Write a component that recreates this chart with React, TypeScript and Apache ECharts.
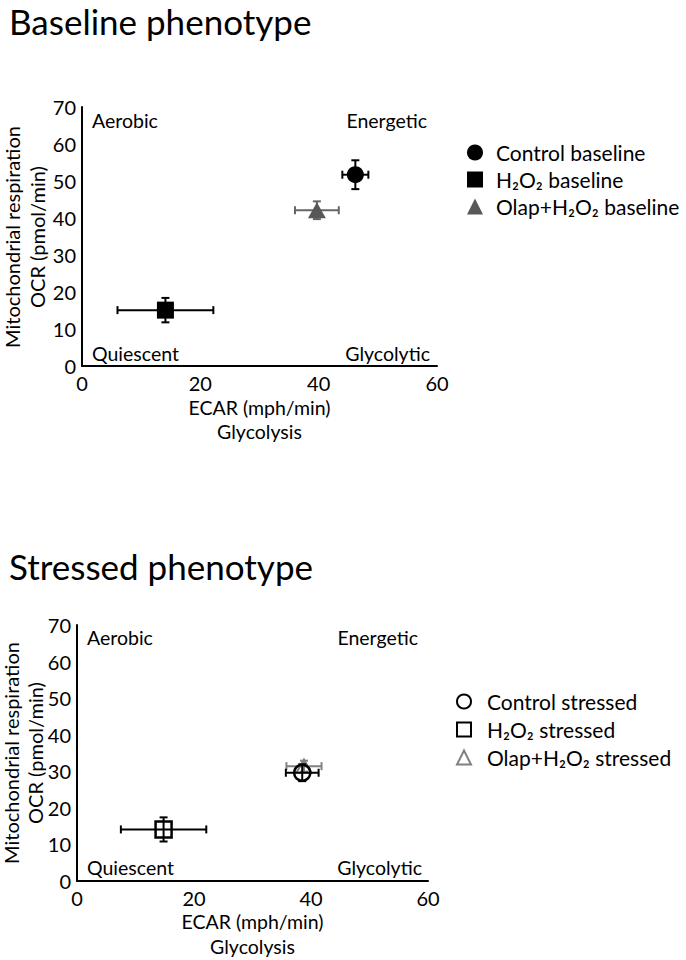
import React, { useEffect, useRef } from "react";
import * as echarts from "echarts";

const FONT = "Lato";

// Baseline phenotype
const baselineNames = ["Control baseline", "H₂O₂ baseline", "Olap+H₂O₂ baseline"];
const baselineX = [46.2, 14.1, 39.7];
const baselineY = [51.7, 15.1, 42.1];
const baselineXErr = [2.2, 8.1, 3.7];
const baselineYErr = [3.9, 3.3, 2.4];

// Stressed phenotype
const stressedNames = ["Control stressed", "H₂O₂ stressed", "Olap+H₂O₂ stressed"];
const stressedX = [38.5, 14.8, 38.8];
const stressedY = [29.6, 14.1, 31.4];
const stressedXErr = [2.8, 7.3, 3.0];
const stressedYErr = [2.3, 3.3, 1.5];

const xTicks = { min: 0, max: 60, interval: 20 };
const yTicks = { min: 0, max: 70, interval: 10 };
const quadrantLabels = ["Aerobic", "Energetic", "Quiescent", "Glycolytic"];
const yNameLines = ["Mitochondrial respiration", "OCR (pmol/min)"];

function errSeries(g: number, x: number, y: number, xe: number, ye: number, color: string, z: number) {
  return {
    type: "custom",
    xAxisIndex: g,
    yAxisIndex: g,
    z,
    silent: true,
    encode: { x: 0, y: 1 },
    data: [[x, y, xe, ye]],
    renderItem: (params: any, api: any) => {
      const vx = api.value(0), vy = api.value(1), ex = api.value(2), ey = api.value(3);
      const c = api.coord([vx, vy]);
      const l = api.coord([vx - ex, vy]);
      const r = api.coord([vx + ex, vy]);
      const t = api.coord([vx, vy + ey]);
      const b = api.coord([vx, vy - ey]);
      const cap = 4;
      const style = { stroke: color, lineWidth: 2 };
      const ln = (x1: number, y1: number, x2: number, y2: number) => ({ type: "line", shape: { x1, y1, x2, y2 }, style });
      return {
        type: "group",
        children: [
          ln(l[0], c[1], r[0], c[1]),
          ln(l[0], c[1] - cap, l[0], c[1] + cap),
          ln(r[0], c[1] - cap, r[0], c[1] + cap),
          ln(c[0], t[1], c[0], b[1]),
          ln(c[0] - cap, t[1], c[0] + cap, t[1]),
          ln(c[0] - cap, b[1], c[0] + cap, b[1]),
        ],
      };
    },
  };
}

function axisPair(g: number, xGap: number, xLH: number) {
  const lab = { color: "#000", fontSize: 20, fontFamily: FONT };
  return {
    x: {
      gridIndex: g,
      type: "value",
      ...xTicks,
      axisLine: { show: true, onZero: false, lineStyle: { color: "#000", width: 2 } },
      axisTick: { show: false },
      splitLine: { show: false },
      axisLabel: { ...lab, margin: 7 },
      name: "ECAR (mph/min)\nGlycolysis",
      nameLocation: "middle",
      nameGap: xGap,
      nameTextStyle: { ...lab, fontSize: 19.5, lineHeight: xLH },
    },
    y: {
      gridIndex: g,
      type: "value",
      ...yTicks,
      axisLine: { show: true, onZero: false, lineStyle: { color: "#000", width: 2 } },
      axisTick: { show: false },
      splitLine: { show: false },
      axisLabel: { ...lab, margin: 6 },
    },
  };
}

function quadText(text: string, x: number, y: number, align: string) {
  return {
    type: "text",
    x,
    y,
    style: { text, fill: "#000", fontSize: 19.5, fontFamily: FONT, align, verticalAlign: "middle" },
  };
}

function yNameText(text: string, x: number, y: number) {
  return {
    type: "text",
    x,
    y,
    rotation: Math.PI / 2,
    style: { text, fill: "#000", fontSize: 20, fontFamily: FONT, align: "center", verticalAlign: "middle" },
  };
}

export default function App() {
  const ref = useRef<HTMLDivElement>(null);
  useEffect(() => {
    if (!ref.current) return;
    const chart = echarts.init(ref.current, null, { renderer: "svg" });
    const a0 = axisPair(0, 29, 24);
    const a1 = axisPair(1, 28, 25);
    const black = "#000";
    const gray = "#585858";
    const grayLine = "#666";
    const hollowGray = "#808080";
    const legendText = { color: "#000", fontSize: 21, fontFamily: FONT };
    chart.setOption({
      animation: false,
      backgroundColor: "#fff",
      title: [
        { text: "Baseline phenotype", left: 9, top: 3, padding: 0, textStyle: { fontSize: 35, fontWeight: "normal", color: "#000", fontFamily: FONT } },
        { text: "Stressed phenotype", left: 9, top: 548, padding: 0, textStyle: { fontSize: 35, fontWeight: "normal", color: "#000", fontFamily: FONT } },
      ],
      grid: [
        { left: 82, top: 107, width: 355, height: 259, outerBoundsMode: "none" },
        { left: 77, top: 625, width: 351, height: 256, outerBoundsMode: "none" },
      ],
      xAxis: [a0.x, a1.x],
      yAxis: [a0.y, a1.y],
      legend: [
        {
          orient: "vertical",
          left: 467,
          top: 142,
          padding: 0,
          itemWidth: 16,
          itemHeight: 16,
          itemGap: 6,
          data: baselineNames,
          textStyle: { ...legendText, padding: [0, 0, 0, 8] },
        },
        {
          orient: "vertical",
          left: 456,
          top: 691,
          padding: 0,
          itemWidth: 14,
          itemHeight: 14,
          itemGap: 7,
          data: stressedNames,
          textStyle: { ...legendText, padding: [0, 0, 0, 11] },
        },
      ],
      graphic: [
        quadText(quadrantLabels[0], 92, 120, "left"),
        quadText(quadrantLabels[1], 427, 120, "right"),
        quadText(quadrantLabels[2], 92, 353, "left"),
        quadText(quadrantLabels[3], 430, 353, "right"),
        quadText(quadrantLabels[0], 87, 637, "left"),
        quadText(quadrantLabels[1], 418, 637, "right"),
        quadText(quadrantLabels[2], 87, 867, "left"),
        quadText(quadrantLabels[3], 422, 867, "right"),
        yNameText(yNameLines[0], 12, 237),
        yNameText(yNameLines[1], 37, 237),
        yNameText(yNameLines[0], 11, 753),
        yNameText(yNameLines[1], 35, 753),
      ],
      series: [
        // baseline error bars (under markers)
        errSeries(0, baselineX[0], baselineY[0], baselineXErr[0], baselineYErr[0], black, 1),
        errSeries(0, baselineX[1], baselineY[1], baselineXErr[1], baselineYErr[1], black, 1),
        errSeries(0, baselineX[2], baselineY[2], baselineXErr[2], baselineYErr[2], grayLine, 1),
        {
          type: "scatter", name: baselineNames[0], xAxisIndex: 0, yAxisIndex: 0, z: 3,
          symbol: "circle", symbolSize: 17, itemStyle: { color: black, opacity: 1 },
          data: [[baselineX[0], baselineY[0]]],
        },
        {
          type: "scatter", name: baselineNames[1], xAxisIndex: 0, yAxisIndex: 0, z: 3,
          symbol: "rect", symbolSize: 17, itemStyle: { color: black, opacity: 1 },
          data: [[baselineX[1], baselineY[1]]],
        },
        {
          type: "scatter", name: baselineNames[2], xAxisIndex: 0, yAxisIndex: 0, z: 3,
          symbol: "triangle", symbolSize: [18, 16], itemStyle: { color: gray, opacity: 1 },
          data: [[baselineX[2], baselineY[2]]],
        },
        // stressed
        errSeries(1, stressedX[2], stressedY[2], stressedXErr[2], stressedYErr[2], hollowGray, 2),
        {
          type: "scatter", name: stressedNames[2], xAxisIndex: 1, yAxisIndex: 1, z: 2,
          symbol: "triangle", symbolSize: [15, 13],
          itemStyle: { color: "rgba(255,255,255,0)", borderColor: hollowGray, borderWidth: 2, opacity: 1 },
          data: [[stressedX[2], stressedY[2]]],
        },
        errSeries(1, stressedX[0], stressedY[0], stressedXErr[0], stressedYErr[0], black, 3),
        errSeries(1, stressedX[1], stressedY[1], stressedXErr[1], stressedYErr[1], black, 3),
        {
          type: "scatter", name: stressedNames[0], xAxisIndex: 1, yAxisIndex: 1, z: 3,
          symbol: "circle", symbolSize: 16,
          itemStyle: { color: "rgba(255,255,255,0)", borderColor: black, borderWidth: 2.5, opacity: 1 },
          data: [[stressedX[0], stressedY[0]]],
        },
        {
          type: "scatter", name: stressedNames[1], xAxisIndex: 1, yAxisIndex: 1, z: 3,
          symbol: "rect", symbolSize: 16,
          itemStyle: { color: "rgba(255,255,255,0)", borderColor: black, borderWidth: 2.5, opacity: 1 },
          data: [[stressedX[1], stressedY[1]]],
        },
      ],
    });
    return () => chart.dispose();
  }, []);
  return <div ref={ref} style={{ position: "absolute", left: 0, top: 0, width: 686, height: 960 }} />;
}
